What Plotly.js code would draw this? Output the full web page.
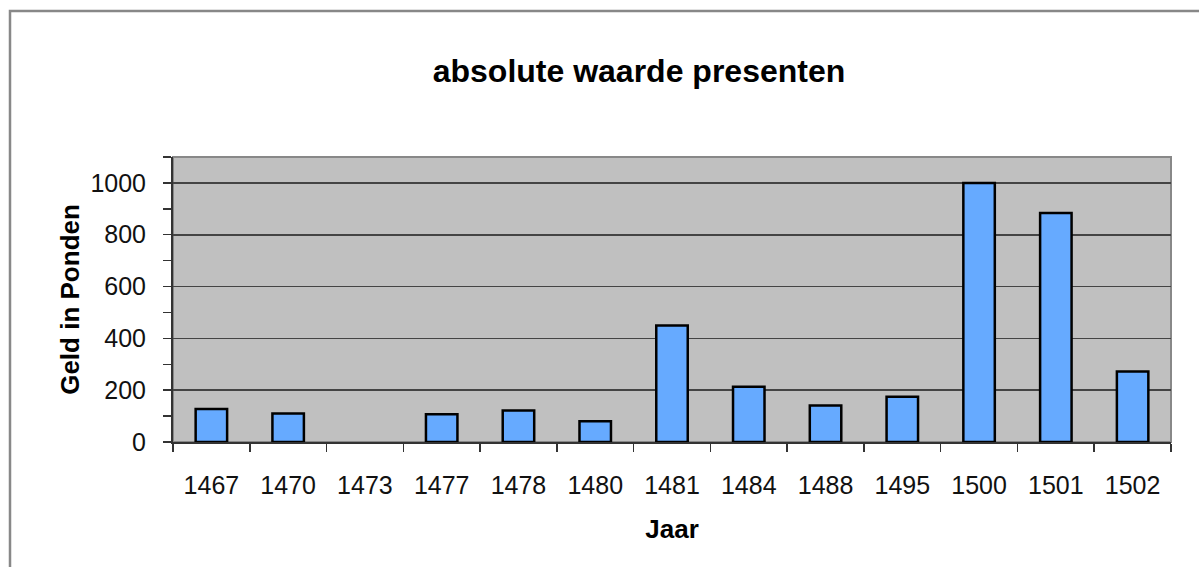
<!DOCTYPE html>
<html><head><meta charset="utf-8">
<script src="https://cdn.plot.ly/plotly-3.0.1.min.js"></script>
<style>html,body{margin:0;padding:0;background:#fff;}#chart{width:1199px;height:567px;}</style>
</head><body><div id="chart"></div>
<script>
const years = ['1467','1470','1473','1477','1478','1480','1481','1484','1488','1495','1500','1501','1502'];
const values = [127, 110, null, 107, 122, 80, 450, 213, 141, 175, 1000, 884, 272];
const yTickVals = [0, 200, 400, 600, 800, 1000];

const L = 173, R = 1171, T = 157, B = 442, W = 1199, H = 567;
const px2x = x => (x - L) / (R - L);
const px2y = y => (B - y) / (B - T);

const font = 'Liberation Sans, Arial, sans-serif';

const trace = {
  type: 'bar', x: years, y: values,
  marker: {color: '#66aaff', line: {color: '#000', width: 2.5}},
  hoverinfo: 'x+y'
};

const layout = {
  width: W, height: H,
  margin: {l: L, r: W - R, t: T, b: H - B},
  paper_bgcolor: '#fff', plot_bgcolor: '#c0c0c0',
  font: {family: font, color: '#000'},
  showlegend: false,
  bargap: 0.59,
  title: {text: '<b>absolute waarde presenten</b>', font: {size: 32, family: font, color: '#000'},
          xref: 'paper', x: px2x(639), xanchor: 'center', yref: 'container', y: 1 - 71/H, yanchor: 'middle'},
  xaxis: {
    type: 'category', tickson: 'boundaries', ticks: 'outside', ticklen: 8, tickwidth: 1.5, tickcolor: '#333',
    showline: true, linecolor: '#333', linewidth: 2, showgrid: false, zeroline: false,
    tickfont: {size: 25, family: font, color: '#111'}, ticklabelstandoff: 20,
    title: {text: '<b>Jaar</b>', font: {size: 26, family: font, color: '#000'}, standoff: 22},
    fixedrange: true
  },
  yaxis: {
    range: [0, 1100], tickvals: yTickVals, ticks: 'outside', ticklen: 8, tickwidth: 1.5, tickcolor: '#333',
    showline: true, linecolor: '#333', linewidth: 2, showgrid: true, gridcolor: '#444', gridwidth: 1.6,
    zeroline: false,
    minor: {dtick: 100, tick0: 0, ticks: 'outside', ticklen: 8, tickwidth: 1.5, tickcolor: '#333', showgrid: false},
    tickfont: {size: 25, family: font, color: '#111'}, ticklabelstandoff: 12,
    title: {text: '<b>Geld in Ponden</b>', font: {size: 26, family: font, color: '#000'}, standoff: 3},
    fixedrange: true
  },
  shapes: [
    {type: 'rect', xref: 'paper', yref: 'paper', x0: 0, x1: 1, y0: 0, y1: 1,
     line: {color: '#888', width: 2}, layer: 'below'},
    {type: 'rect', xref: 'paper', yref: 'paper', x0: px2x(10), x1: px2x(1260), y0: px2y(620), y1: px2y(11),
     line: {color: '#888', width: 2.5}, fillcolor: 'rgba(0,0,0,0)', layer: 'below'}
  ]
};

Plotly.newPlot('chart', [trace], layout, {displayModeBar: false, staticPlot: true});
</script></body></html>
